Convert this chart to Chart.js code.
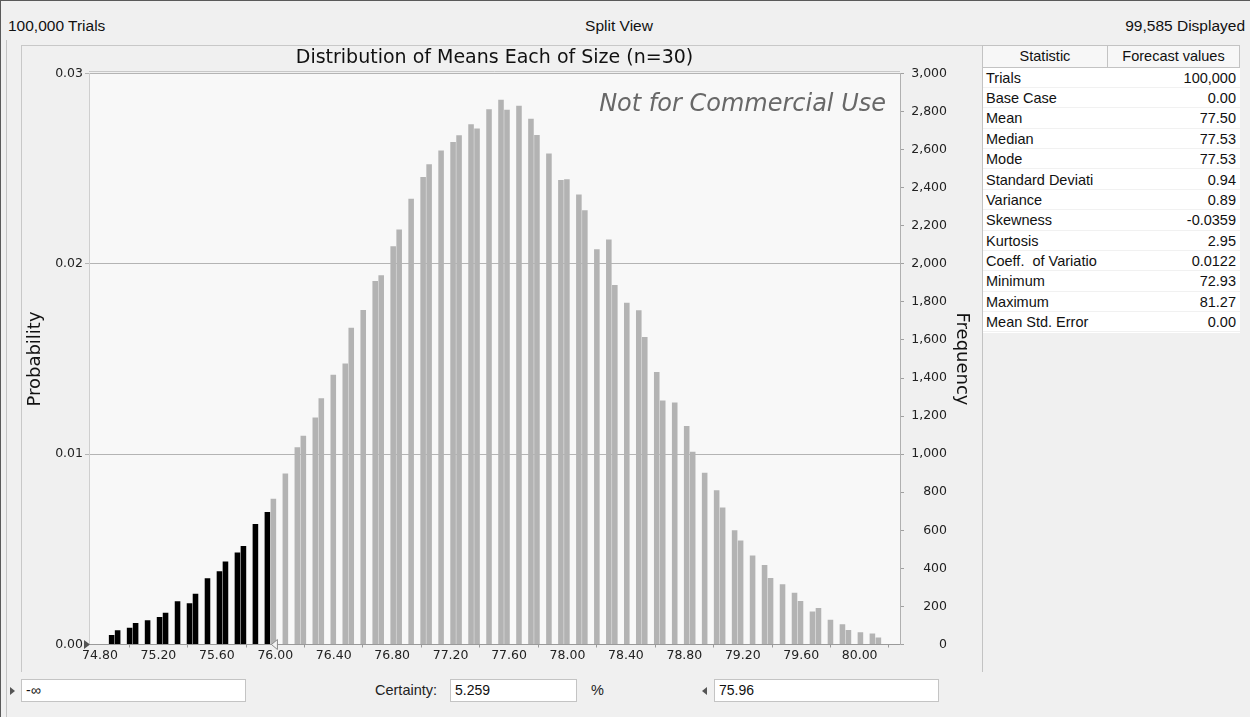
<!DOCTYPE html>
<html>
<head>
<meta charset="utf-8">
<title>Distribution of Means Each of Size (n=30)</title>
<script src="https://cdn.jsdelivr.net/npm/chart.js@4.4.1/dist/chart.umd.min.js"></script>
<style>
  html, body { margin: 0; padding: 0; }
  body {
    width: 1250px; height: 717px; position: relative; overflow: hidden;
    background: #f0f0f0; color: #111;
    font-family: "Liberation Sans", Arial, sans-serif;
  }
  .edge-top { position: absolute; left: 0; top: 0; width: 1250px; height: 1px; background: #5a5a5a; }
  .edge-left { position: absolute; left: 0; top: 0; width: 1px; height: 717px; background: #5a5a5a; }
  .edge-inner { position: absolute; left: 6px; top: 40px; width: 1px; height: 677px; background: #c4c4c4; }
  .hdr { position: absolute; top: 17px; font-size: 15.5px; line-height: 18px; white-space: nowrap; }
  #panel {
    position: absolute; left: 21px; top: 45px; width: 962px; height: 627px;
    border-left: 1px solid #c8c8c8; border-top: 1px solid #c8c8c8; border-right: 1px solid #c8c8c8;
    box-sizing: border-box;
  }
  #chartBox { position: absolute; left: 0; top: 40px; width: 983px; height: 632px; }
  #stats { position: absolute; left: 982px; top: 45px; width: 258px; height: 288px; background: #fff; }
  #stats .hcell {
    position: absolute; top: 0; height: 23px; box-sizing: border-box;
    background: #f7f7f7; border: 1px solid #c3c3c3;
    font-size: 14.5px; line-height: 21px; text-align: center; white-space: nowrap;
  }
  #stats .row { position: absolute; left: 0; width: 258px; height: 20.36px; border-bottom: 1px solid #f1f1f1; box-sizing: border-box; }
  #stats .lab { position: absolute; left: 4px; top: 0; font-size: 14.5px; line-height: 20px; white-space: pre; }
  #stats .val { position: absolute; right: 4px; top: 0; font-size: 14.5px; line-height: 20px; white-space: nowrap; }
  #stats .vline { position: absolute; left: 0; top: 0; width: 1px; height: 627px; background: #c3c3c3; }
  .box {
    position: absolute; top: 679px; height: 23px; box-sizing: border-box;
    background: #fff; border: 1px solid #c4c4c4;
    font-size: 14px; line-height: 21px; padding-left: 4px; white-space: nowrap;
  }
  .lbl { position: absolute; top: 681px; font-size: 14.5px; line-height: 18px; white-space: nowrap; color: #222; }
  .tri-r { position: absolute; width: 0; height: 0; border-top: 4px solid transparent; border-bottom: 4px solid transparent; border-left: 5px solid #555; }
  .tri-l { position: absolute; width: 0; height: 0; border-top: 4px solid transparent; border-bottom: 4px solid transparent; border-right: 5px solid #555; }
</style>
</head>
<body>
<div class="edge-top"></div>
<div class="edge-left"></div>
<div class="edge-inner"></div>

<div class="hdr" id="hdrTrials" style="left:8px;"></div>
<div class="hdr" style="left:619px; transform:translateX(-50%);">Split View</div>
<div class="hdr" id="hdrShown" style="right:5px;"></div>

<div id="panel"></div>
<div id="chartBox"><canvas id="chart" width="983" height="632"></canvas></div>

<div id="stats"></div>

<div class="tri-r" style="left:10px; top:687px;"></div>
<div class="box" id="lowBox" style="left:21px; width:225px;"></div>
<div class="lbl" style="left:375px;">Certainty:</div>
<div class="box" id="certBox" style="left:450px; width:127px;"></div>
<div class="lbl" style="left:591px;">%</div>
<div class="tri-l" style="left:702px; top:687px;"></div>
<div class="box" id="highBox" style="left:714px; width:225px;"></div>

<script>
// ---- histogram of sample means (frequency per bin) ----
const binStart = 74.88;     // centre of first plotted bin
const binWidth = 0.041;     // bin width
const binFreq = [
  50, 75, 0, 88, 113, 0, 127, 0, 145, 167,
  0, 227, 0, 217, 267, 0, 348, 0, 385, 436,
  0, 483, 518, 0, 633, 0, 696, 766, 0, 898,
  0, 1036, 1097, 0, 1192, 1294, 0, 1417, 0, 1476,
  1664, 0, 1757, 0, 1910, 1940, 0, 2092, 2180, 0,
  2342, 0, 2456, 2523, 0, 2596, 0, 2640, 2676, 0,
  2734, 2711, 0, 2812, 0, 2862, 2809, 0, 2831, 0,
  2762, 2677, 0, 2580, 0, 2440, 2445, 0, 2364, 2281,
  0, 2076, 0, 2128, 1889, 0, 1795, 0, 1756, 1616,
  0, 1432, 1282, 0, 1272, 0, 1148, 1013, 0, 903,
  0, 810, 720, 0, 600, 547, 0, 467, 0, 418,
  350, 0, 316, 0, 272, 229, 0, 173, 192, 0,
  130, 0, 107, 76, 0, 64, 0, 58, 37
];

// ---- axis ticks ----
const xTickValues = [74.80, 75.20, 75.60, 76.00, 76.40, 76.80, 77.20, 77.60, 78.00, 78.40, 78.80, 79.20, 79.60, 80.00];
const probTickValues = [0, 0.01, 0.02, 0.03];
const freqMax = 3000;
const freqStep = 200;
const totalTrials = 100000;

// ---- certainty range ----
const certaintyLow = '-\u221E';
const certaintyHigh = 75.96;
const certaintyPct = '5.259';

// ---- header + statistics ----
const trialsText = '100,000 Trials';
const displayedText = '99,585 Displayed';
const statNames = ['Trials', 'Base Case', 'Mean', 'Median', 'Mode', 'Standard Deviati', 'Variance',
  'Skewness', 'Kurtosis', 'Coeff.  of Variatio', 'Minimum', 'Maximum', 'Mean Std. Error'];
const statValues = ['100,000', '0.00', '77.50', '77.53', '77.53', '0.94', '0.89',
  '-0.0359', '2.95', '0.0122', '72.93', '81.27', '0.00'];

// ---------------------------------------------------------------
document.getElementById('hdrTrials').textContent = trialsText;
document.getElementById('hdrShown').textContent = displayedText;
document.getElementById('lowBox').textContent = certaintyLow;
document.getElementById('certBox').textContent = certaintyPct;
document.getElementById('highBox').textContent = certaintyHigh.toFixed(2);

// statistics table
(function buildStats() {
  const host = document.getElementById('stats');
  const c1 = 125, c2 = 258 - 125;
  const h1 = document.createElement('div');
  h1.className = 'hcell'; h1.style.left = '0px'; h1.style.width = (c1 + 1) + 'px';
  h1.textContent = 'Statistic';
  const h2 = document.createElement('div');
  h2.className = 'hcell'; h2.style.left = c1 + 'px'; h2.style.width = c2 + 'px';
  h2.textContent = 'Forecast values';
  host.appendChild(h1); host.appendChild(h2);
  statNames.forEach((name, i) => {
    const r = document.createElement('div');
    r.className = 'row';
    r.style.top = (22.7 + i * 20.36) + 'px';
    const l = document.createElement('div'); l.className = 'lab'; l.textContent = name;
    const v = document.createElement('div'); v.className = 'val'; v.textContent = statValues[i];
    r.appendChild(l); r.appendChild(v);
    host.appendChild(r);
  });
  const vl = document.createElement('div'); vl.className = 'vline';
  host.appendChild(vl);
})();

// ---------------------------------------------------------------
const FONT = '"DejaVu Sans", "Liberation Sans", sans-serif';
const points = binFreq.map((f, i) => ({ x: binStart + i * binWidth, y: f }));
const barColors = points.map(p => (p.x < certaintyHigh ? '#000000' : '#b3b3b3'));

// plot background, double top rule, watermark and certainty grabbers
const plotDecor = {
  id: 'plotDecor',
  beforeDraw(chart) {
    const { ctx, chartArea: a } = chart;
    ctx.save();
    ctx.fillStyle = '#f8f8f8';
    ctx.fillRect(a.left, a.top, a.right - a.left, a.bottom - a.top);
    ctx.strokeStyle = '#c8c8c8';
    ctx.lineWidth = 1;
    ctx.beginPath();
    ctx.moveTo(a.left, Math.round(a.top) - 2.5);
    ctx.lineTo(a.right, Math.round(a.top) - 2.5);
    ctx.stroke();
    ctx.restore();
  },
  beforeDatasetsDraw(chart) {
    const { ctx, chartArea: a } = chart;
    ctx.save();
    ctx.font = 'italic 24px ' + FONT;
    ctx.fillStyle = '#686868';
    ctx.textAlign = 'right';
    ctx.textBaseline = 'middle';
    ctx.fillText('Not for Commercial Use', a.right - 14, a.top + 31.5);
    ctx.restore();
  },
  afterDraw(chart) {
    const { ctx, chartArea: a, scales } = chart;
    const yb = a.bottom;
    ctx.save();
    // lower grabber (open-ended, sits at the axis start)
    ctx.fillStyle = '#555';
    ctx.beginPath();
    ctx.moveTo(a.left - 5, yb - 4.5);
    ctx.lineTo(a.left + 1, yb);
    ctx.lineTo(a.left - 5, yb + 4.5);
    ctx.closePath();
    ctx.fill();
    // upper grabber at the certainty bound
    const px = scales.x.getPixelForValue(certaintyHigh) + 2;
    ctx.strokeStyle = '#8a8a8a';
    ctx.fillStyle = '#f4f4f4';
    ctx.lineWidth = 1;
    ctx.beginPath();
    ctx.moveTo(px, yb);
    ctx.lineTo(px + 6, yb - 5);
    ctx.lineTo(px + 6, yb + 5);
    ctx.closePath();
    ctx.fill();
    ctx.stroke();
    ctx.restore();
  }
};

new Chart(document.getElementById('chart').getContext('2d'), {
  type: 'bar',
  data: {
    datasets: [{
      data: points,
      xAxisID: 'x',
      yAxisID: 'freq',
      backgroundColor: barColors,
      borderWidth: 0,
      barPercentage: 0.93,
      categoryPercentage: 1.0
    }]
  },
  options: {
    responsive: false,
    animation: false,
    devicePixelRatio: 1,
    layout: { padding: { left: 0, right: 36, top: 0, bottom: 0 } },
    plugins: {
      legend: { display: false },
      tooltip: { enabled: false },
      title: {
        display: true,
        fullSize: false,
        text: 'Distribution of Means Each of Size (n=30)',
        color: '#111',
        font: { family: FONT, size: 19, weight: 'normal' },
        padding: { top: 6.6, bottom: 4.1 }
      }
    },
    scales: {
      x: {
        type: 'linear',
        position: 'bottom',
        min: 74.725,
        max: 80.276,
        offset: false,
        afterBuildTicks: s => { s.ticks = xTickValues.map(v => ({ value: v })); },
        afterFit: s => { s.height = 27.5; },
        ticks: {
          color: '#222', padding: 1, maxRotation: 0, autoSkip: false,
          font: { family: FONT, size: 12.5 },
          callback: v => Number(v).toFixed(2)
        },
        grid: { drawOnChartArea: false, drawTicks: true, tickLength: 3, color: '#9a9a9a' },
        border: { display: true, color: '#9a9a9a' }
      },
      prob: {
        type: 'linear',
        position: 'left',
        min: 0,
        max: freqMax / totalTrials,
        afterBuildTicks: s => { s.ticks = probTickValues.map(v => ({ value: v })); },
        afterFit: s => { s.width = 89; },
        ticks: {
          color: '#222', padding: 2,
          font: { family: FONT, size: 12.5 },
          callback: v => Number(v).toFixed(2)
        },
        grid: { color: '#b4b4b4', drawTicks: true, tickLength: 4 },
        border: { display: true, color: '#cfcfcf' },
        title: {
          display: true, text: 'Probability', color: '#111',
          font: { family: FONT, size: 18 },
          padding: { top: 24.2, bottom: 0 }
        }
      },
      freq: {
        type: 'linear',
        position: 'right',
        min: 0,
        max: freqMax,
        afterFit: s => { s.width = 47; },
        ticks: {
          stepSize: freqStep, crossAlign: 'far', color: '#222', padding: 2,
          font: { family: FONT, size: 12.5 },
          callback: v => Number(v).toLocaleString('en-US')
        },
        grid: { drawOnChartArea: false, drawTicks: true, tickLength: 4, color: '#a0a0a0' },
        border: { display: true, color: '#b0b0b0' },
        title: {
          display: true, text: 'Frequency', color: '#111',
          font: { family: FONT, size: 18 },
          padding: { top: -25.8, bottom: 0 }
        }
      }
    }
  },
  plugins: [plotDecor]
});
</script>
</body>
</html>
